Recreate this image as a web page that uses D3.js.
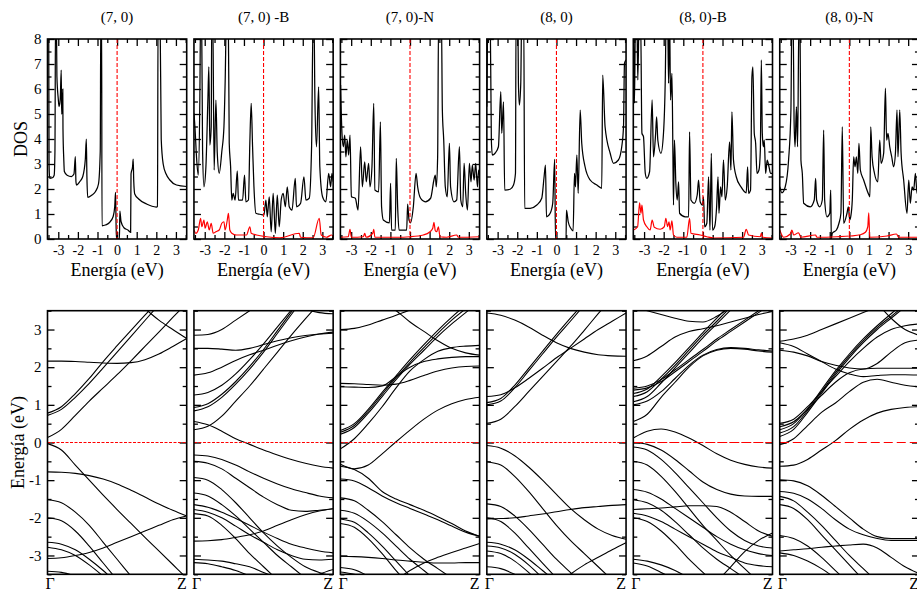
<!DOCTYPE html>
<html>
<head>
<meta charset="utf-8">
<script src="https://cdn.jsdelivr.net/npm/d3@7"></script>
<style>
  body { margin: 0; background: #fff; }
  svg { display: block; }
  svg text { font-family: "Liberation Serif", "Times New Roman", serif; }
</style>
</head>
<body>
<div id="chart-area"></div>
<script>
// ---------- data ----------
const titles = ["(7, 0)", "(7, 0) -B", "(7, 0)-N", "(8, 0)", "(8, 0)-B", "(8, 0)-N"]
const dosTicksX = [-3, -2, -1, 0, 1, 2, 3]
const dosTicksY = [0, 1, 2, 3, 4, 5, 6, 7, 8]
const bandTicksY = [-3, -2, -1, 0, 1, 2, 3]

// total DOS, [energy eV, DOS]
const dos70 = [[-3.55,9],[-3.49,9],[-3.47,3.0],[-3.44,2.43],[-3.3,2.45],[-3.21,2.55],[-3.17,3.5],[-3.14,9],[-3.1,9],[-3.07,6.5],[-3.0,5.6],[-2.96,5.3],[-2.9,5.6],[-2.85,6.76],[-2.83,5.0],[-2.8,5.2],[-2.77,6.0],[-2.76,4.4],[-2.72,3.2],[-2.69,2.7],[-2.55,2.55],[-2.33,2.5],[-2.2,2.6],[-2.13,3.3],[-2.1,2.3],[-2.07,2.16],[-1.9,2.3],[-1.75,2.5],[-1.62,3.2],[-1.57,4.0],[-1.54,2.5],[-1.5,1.67],[-1.3,1.75],[-1.1,1.9],[-0.95,2.2],[-0.86,3.5],[-0.83,9],[-0.79,9],[-0.77,0.53],[-0.6,0.56],[-0.4,0.65],[-0.2,0.9],[-0.12,1.3],[-0.08,1.87],[-0.05,0.5],[-0.03,0],[0.12,0],[0.14,1.12],[0.2,0.7],[0.35,0.45],[0.55,0.36],[0.69,0.27],[0.71,2.6],[0.79,2.9],[0.82,3.2],[0.85,2.3],[0.9,1.8],[1.1,1.6],[1.5,1.4],[2.0,1.28],[2.06,1.3],[2.09,9],[2.19,9],[2.25,4.0],[2.35,3.0],[2.5,2.6],[2.69,2.36],[3.03,2.16],[3.55,2.1]]
const dos70B = [[-3.55,5.03],[-3.5,4.49],[-3.42,3.29],[-3.33,2.56],[-3.25,5.56],[-3.21,9],[-3.16,9],[-3.11,3.56],[-3.04,2.09],[-2.94,2.89],[-2.84,5.56],[-2.79,6.89],[-2.74,3.76],[-2.67,4.49],[-2.64,9],[-2.59,9],[-2.52,2.76],[-2.43,5.56],[-2.36,3.43],[-2.26,2.63],[-2.13,3.49],[-2.02,4.49],[-1.96,6.23],[-1.89,9],[-1.8,9],[-1.75,3.83],[-1.68,2.89],[-1.62,1.56],[-1.55,1.83],[-1.45,1.56],[-1.34,2.73],[-1.28,1.56],[-1.07,1.56],[-0.97,2.56],[-0.9,1.49],[-0.77,1.56],[-0.7,3.83],[-0.63,5.43],[-0.56,3.69],[-0.49,2.09],[-0.39,1.03],[-0.19,0.99],[0.02,0.96],[0.12,1.56],[0.19,0.89],[0.29,1.69],[0.39,0.29],[0.49,1.83],[0.6,0.23],[0.7,1.76],[0.8,0.49],[0.9,1.56],[1.0,1.83],[1.11,1.29],[1.21,2.09],[1.31,1.29],[1.45,1.16],[1.62,2.43],[1.68,1.29],[1.89,1.43],[2.06,2.49],[2.16,1.56],[2.33,1.63],[2.45,3.69],[2.53,9],[2.57,9],[2.62,5.56],[2.7,3.69],[2.81,6.09],[2.87,2.89],[3.01,1.69],[3.18,1.49],[3.32,2.63],[3.42,2.09],[3.49,2.63],[3.55,2.29]]
const dos70N = [[-3.54,6.16],[-3.47,4.23],[-3.4,3.69],[-3.33,4.16],[-3.27,3.29],[-3.2,3.96],[-3.13,3.36],[-3.06,4.16],[-2.99,1.69],[-2.79,1.63],[-2.65,1.16],[-2.52,3.69],[-2.43,2.09],[-2.31,3.09],[-2.23,2.29],[-2.11,3.03],[-2.04,2.09],[-1.94,2.89],[-1.85,5.43],[-1.79,1.96],[-1.6,1.89],[-1.51,4.69],[-1.45,1.29],[-1.36,0.76],[-1.05,0.65],[-0.99,2.23],[-0.94,0.36],[-0.75,0.36],[-0.7,3.23],[-0.63,1.29],[-0.56,0.36],[-0.17,0.36],[-0.12,1.4],[-0.05,0.76],[0.03,0.65],[0.17,1.29],[0.31,2.63],[0.39,2.09],[0.54,1.63],[0.78,1.49],[1.05,1.63],[1.22,2.36],[1.29,2.56],[1.34,2.09],[1.41,3.29],[1.46,9],[1.6,9],[1.65,5.16],[1.72,3.96],[1.8,2.09],[1.9,1.69],[2.01,3.83],[2.07,2.09],[2.24,1.49],[2.38,1.56],[2.52,3.69],[2.59,1.56],[2.69,1.29],[2.76,3.03],[2.84,1.83],[2.93,1.16],[3.03,3.03],[3.11,2.29],[3.18,2.96],[3.27,2.36],[3.35,3.03],[3.44,2.09],[3.5,2.76],[3.55,2.56]]
const dos80 = [[-3.55,5.29],[-3.49,9],[-3.38,9],[-3.32,3.96],[-3.27,3.36],[-3.13,3.43],[-2.96,3.69],[-2.84,5.89],[-2.79,4.23],[-2.7,5.49],[-2.64,1.96],[-2.36,1.99],[-2.19,2.16],[-2.09,2.63],[-2.06,9],[-1.97,9],[-1.94,6.23],[-1.89,5.36],[-1.82,6.23],[-1.77,9],[-1.67,9],[-1.62,1.23],[-1.34,1.23],[-1.0,1.36],[-0.75,1.63],[-0.63,2.49],[-0.56,2.96],[-0.51,0.89],[-0.32,1.03],[-0.19,1.43],[-0.09,3.19],[-0.05,0],[0.49,0],[0.51,1.16],[0.6,0.69],[0.73,0.43],[0.85,0.33],[0.92,2.63],[0.97,2.09],[1.04,3.36],[1.11,1.83],[1.21,5.16],[1.29,3.83],[1.46,2.89],[1.72,2.36],[2.06,2.16],[2.31,2.03],[2.36,6.56],[2.48,4.49],[2.74,3.43],[2.91,3.03],[3.16,3.16],[3.33,3.69],[3.42,4.49],[3.47,7.03],[3.55,7.16]]
const dos80B = [[-3.54,9],[-3.49,5.43],[-3.44,9],[-3.37,9],[-3.32,6.36],[-3.25,9],[-3.18,9],[-3.11,4.23],[-3.03,4.09],[-2.94,2.63],[-2.86,2.43],[-2.72,2.69],[-2.59,5.56],[-2.52,3.29],[-2.41,4.23],[-2.36,4.89],[-2.3,3.96],[-2.14,3.43],[-2.01,4.23],[-1.92,6.36],[-1.87,9],[-1.8,9],[-1.75,6.23],[-1.7,9],[-1.65,5.56],[-1.58,6.63],[-1.53,3.43],[-1.5,1.36],[-1.45,3.96],[-1.38,2.23],[-1.31,1.56],[-1.24,2.29],[-1.19,1.03],[-0.9,0.89],[-0.73,0.89],[-0.68,4.29],[-0.61,1.56],[-0.44,1.43],[-0.29,1.76],[-0.22,2.36],[-0.14,1.49],[-0.02,1.36],[0.03,1.69],[0.09,0.49],[0.2,0.63],[0.29,2.49],[0.36,0.36],[0.43,3.43],[0.49,0.36],[0.6,0.49],[0.7,1.29],[0.77,2.49],[0.82,1.03],[0.9,2.09],[0.97,1.69],[1.05,3.16],[1.14,1.56],[1.24,2.09],[1.36,3.89],[1.43,2.76],[1.48,5.09],[1.56,3.16],[1.7,2.49],[1.94,2.09],[2.21,1.85],[2.28,2.89],[2.33,1.83],[2.43,1.96],[2.5,6.49],[2.55,6.89],[2.62,4.23],[2.69,3.83],[2.76,2.63],[2.86,2.76],[2.93,3.56],[2.98,7.16],[3.03,4.23],[3.08,3.69],[3.13,3.96],[3.2,2.63],[3.28,3.16],[3.37,2.89],[3.45,2.63],[3.54,2.63]]
const dos80N = [[-3.55,2.09],[-3.44,1.85],[-3.27,2.09],[-3.1,3.16],[-2.98,5.16],[-2.93,9],[-2.87,9],[-2.82,4.76],[-2.77,3.69],[-2.7,5.29],[-2.64,3.69],[-2.59,7.63],[-2.55,9],[-2.52,9],[-2.47,3.16],[-2.4,2.63],[-2.33,1.43],[-1.99,1.29],[-1.79,1.56],[-1.72,2.43],[-1.67,1.56],[-1.51,1.29],[-1.38,1.56],[-1.31,4.36],[-1.26,1.56],[-1.14,0.89],[-1.0,1.03],[-0.95,1.96],[-0.92,0],[-0.87,0.23],[-0.66,0.36],[-0.53,0.63],[-0.43,1.03],[-0.36,4.49],[-0.29,0.63],[-0.12,1.03],[-0.05,1.29],[0.02,0.76],[0.07,0.89],[0.15,1.56],[0.22,3.29],[0.29,2.89],[0.36,3.29],[0.43,2.63],[0.49,3.83],[0.56,2.76],[0.73,2.36],[1.0,1.76],[1.05,1.69],[1.09,4.49],[1.16,3.29],[1.28,2.63],[1.45,2.29],[1.55,3.96],[1.62,3.03],[1.75,3.43],[1.84,6.03],[1.9,3.96],[1.97,4.23],[2.06,3.69],[2.16,3.29],[2.26,2.89],[2.35,3.43],[2.43,5.16],[2.48,3.29],[2.57,5.16],[2.64,3.43],[2.77,2.36],[2.94,1.03],[3.03,2.36],[3.11,1.43],[3.2,2.09],[3.28,1.96],[3.37,2.63],[3.45,1.83],[3.55,2.09]]

// impurity projected DOS (red)
const pdos70B = [[-3.55,0.36],[-3.45,0.23],[-3.33,0.36],[-3.21,0.83],[-3.15,0.49],[-3.04,0.76],[-2.98,0.43],[-2.87,0.69],[-2.77,0.36],[-2.67,0.63],[-2.57,0.23],[-2.43,0.29],[-2.26,0.36],[-2.13,0.63],[-2.02,0.69],[-1.96,0.36],[-1.85,0.76],[-1.79,1.03],[-1.72,0.36],[-1.62,0.23],[-1.38,0.16],[-0.87,0.16],[-0.7,0.49],[-0.63,0.23],[-0.36,0.16],[0.15,0.09],[0.83,0.05],[1.82,0.23],[1.89,0.07],[2.53,0.05],[2.84,0.83],[2.94,0.16],[3.21,0.07],[3.47,0.16],[3.55,0.09]]
const pdos70N = [[-3.54,0.07],[-3.15,0.09],[-3.06,0.39],[-2.99,0.07],[-2.38,0.09],[-2.31,0.23],[-2.24,0.07],[-1.9,0.23],[-1.85,0.39],[-1.79,0.07],[-0.68,0.07],[0,0.09],[0.68,0.16],[1.02,0.29],[1.16,0.43],[1.22,0.67],[1.29,0.33],[1.36,0.29],[1.45,0.49],[1.53,0.09],[1.87,0.07],[2.38,0.16],[2.47,0.07],[3.55,0.09]]
const pdos80B = [[-3.54,0.36],[-3.33,0.49],[-3.23,1.45],[-3.16,1.03],[-3.11,1.36],[-3.03,0.76],[-2.86,0.49],[-2.69,0.36],[-2.59,0.76],[-2.48,0.47],[-2.18,0.39],[-1.97,0.49],[-1.89,0.83],[-1.8,0.49],[-1.73,0.69],[-1.67,0.36],[-1.58,0.73],[-1.5,0.16],[-1.33,0.07],[-0.82,0.07],[-0.68,0.83],[-0.61,0.23],[-0.14,0.16],[0.2,0.09],[0.54,0.04],[2.07,0.07],[2.21,0.39],[2.33,0.16],[2.93,0.09],[2.98,0.23],[3.06,0.07],[3.54,0.04]]
const pdos80N = [[-3.55,0.36],[-3.35,0.07],[-3.01,0.2],[-2.93,0.36],[-2.84,0.16],[-2.59,0.25],[-2.47,0.07],[-1.73,0.16],[-1.65,0.07],[-0.63,0.09],[0.05,0.12],[0.56,0.17],[0.82,0.27],[0.94,0.49],[0.99,1.05],[1.04,0.07],[1.92,0.12],[2.4,0.2],[2.52,0.07],[3.55,0.07]]

// band energies (eV) at k = 0, 0.1, ... 1 (Γ to Z); null = not drawn
const bands70 = [
  [0.13, 0.35, 0.72, 1.1, 1.45, 1.8, 2.17, 2.55, 2.93, 3.32, 3.7],
  [0.78, 0.95, 1.3, 1.7, 2.15, 2.57, 2.98, 3.38, 3.78],
  [0.72, 0.88, 1.2, 1.57, 1.98, 2.4, 2.82, 3.24, 3.66],
  [2.16, 2.16, 2.15, 2.13, 2.11, 2.1, 2.12, 2.2, 2.35, 2.55, 2.76],
  [null, null, null, null, null, null, 3.8, 3.55, 3.25, 3.0, 2.76],
  [-0.03, -0.2, -0.6, -1.0, -1.4, -1.78, -2.15, -2.52, -2.88, -3.24, -3.6],
  [-0.78, -0.79, -0.82, -0.88, -0.97, -1.1, -1.27, -1.45, -1.63, -1.8, -1.95],
  [-1.52, -1.6, -1.85, -2.2, -2.65, -3.1, -3.55],
  [-2.0, -2.08, -2.35, -2.75, -3.2, -3.65],
  [-3.08, -3.06, -3.0, -2.92, -2.8, -2.65, -2.5, -2.35, -2.2, -2.05, -1.95],
  [-2.65, -2.7, -2.85, -3.1, -3.4, -3.75],
  [-2.78, -2.85, -3.0, -3.25, -3.55],
  [-3.42, -3.45, -3.55]
]
const bands70B = [
  [0.34, 0.43, 0.7, 1.1, 1.5, 1.95, 2.4, 2.85, 3.28, 3.7],
  [0.56, 0.47, 0.3, 0.1, -0.05, -0.2, -0.33, -0.45, -0.55, -0.63, -0.68],
  [0.84, 0.95, 1.2, 1.55, 1.95, 2.4, 2.9, 3.4, 3.9],
  [0.93, 1.03, 1.28, 1.62, 2.02, 2.47, 2.97, 3.47, 3.97],
  [1.26, 1.33, 1.52, 1.82, 2.2, 2.62, 3.07, 3.52],
  [1.79, 1.85, 2.0, 2.18, 2.33, 2.45, 2.58, 2.7, 2.8, 2.88, 2.93],
  [2.5, 2.5, 2.48, 2.45, 2.5, 2.6, 2.7, 2.78, 2.84, 2.88, 2.9],
  [2.85, 2.87, 3.0, 3.25, 3.5, 3.75],
  [null, null, null, null, null, null, null, 3.8, 3.55, 3.45, 3.42],
  [-0.33, -0.36, -0.45, -0.6, -0.78, -0.95, -1.1, -1.23, -1.33, -1.42, -1.47],
  [-0.5, -0.55, -0.7, -0.95, -1.2, -1.45, -1.65, -1.8, -1.83, -1.8, -1.76],
  [-0.93, -1.0, -1.25, -1.6, -2.0, -2.4, -2.75, -3.05, -3.3, -3.45, -3.55],
  [-1.34, -1.42, -1.65, -1.95, -2.3, -2.65, -3.0, -3.3, -3.6],
  [-1.65, -1.72, -1.85, -2.02, -2.2, -2.38, -2.55, -2.7, -2.8, -2.88, -2.93],
  [-1.78, -1.85, -2.0, -2.22, -2.45, -2.65, -2.85, -3.0, -3.1, -3.12, -3.1],
  [-1.89, -1.95, -2.2, -2.55, -2.95, -3.3, -3.65],
  [-2.62, -2.61, -2.58, -2.52, -2.45, -2.35, -2.2, -2.05, -1.92, -1.82, -1.76],
  [-3.1, -3.12, -3.15, -3.22, -3.3, -3.45, -3.6],
  [-3.19, -3.22, -3.3, -3.4, -3.55],
  [null, null, null, null, null, null, null, null, -3.7, -3.5, -3.37]
]
const bands70N = [
  [-0.58, -0.7, -0.6, -0.3, 0.02, 0.33, 0.62, 0.86, 1.03, 1.14, 1.2],
  [-0.17, 0.1, 0.5, 0.95, 1.45, 1.9, 2.2, 2.42, 2.52, 2.56, 2.58],
  [0.22, 0.4, 0.78, 1.22, 1.67, 2.08, 2.45, 2.82, 3.15, 3.45, 3.75],
  [0.27, 0.45, 0.83, 1.28, 1.72, 2.13, 2.52, 2.9, 3.25, 3.55],
  [0.32, 0.5, 0.88, 1.33, 1.77, 2.2, 2.6, 2.98, 3.33, 3.65],
  [1.57, 1.56, 1.54, 1.52, 1.55, 1.65, 1.78, 1.9, 1.98, 2.02, 2.03],
  [1.48, 1.47, 1.46, 1.5, 1.75, 2.0, 2.15, 2.22, 2.26, 2.28, 2.28],
  [3.0, 3.03, 3.12, 3.25, 3.38, 3.52],
  [null, null, null, 3.7, 3.5, 3.2, 2.95, 2.7, 2.5, 2.38, 2.32],
  [-0.63, -0.72, -0.95, -1.3, -1.5, -1.65, -1.8, -1.97, -2.15, -2.35, -2.49],
  [-0.97, -1.02, -1.2, -1.42, -1.6, -1.75, -1.9, -2.05, -2.22, -2.38, -2.49],
  [-1.47, -1.55, -1.8, -2.1, -2.45, -2.8, -3.1, -3.35, -3.6],
  [-1.8, -1.88, -2.1, -2.4, -2.75, -3.1, -3.4, -3.7],
  [-2.03, -2.12, -2.4, -2.75, -3.15, -3.55],
  [-2.15, -2.25, -2.55, -2.95, -3.4, -3.8],
  [null, null, null, null, -3.65, -3.4, -3.2, -3.05, -2.92, -2.8, -2.68],
  [-3.02, -3.03, -3.05, -3.08, -3.12, -3.15, -3.18, -3.2, -3.2, -3.19, -3.19],
  [-3.32, -3.38, -3.55],
  [-3.44, -3.5, -3.6]
]
const bands80 = [
  [3.44, 3.38, 3.25, 3.07, 2.85, 2.65, 2.5, 2.4, 2.33, 2.3, 2.29],
  [0.51, 0.62, 0.95, 1.35, 1.75, 2.15, 2.55, 2.98, 3.42, 3.85],
  [1.0, 1.1, 1.45, 1.9, 2.35, 2.8, 3.22, 3.65],
  [1.06, 1.17, 1.52, 1.97, 2.42, 2.87, 3.3, 3.72],
  [1.22, 1.27, 1.45, 1.7, 1.97, 2.25, 2.5, 2.75, 3.0, 3.22, 3.44],
  [-0.08, -0.15, -0.35, -0.65, -1.0, -1.38, -1.75, -2.05, -2.3, -2.47, -2.57],
  [-0.51, -0.6, -0.9, -1.3, -1.75, -2.2, -2.6, -2.95, -3.3, -3.65],
  [-2.03, -2.02, -2.0, -1.95, -1.9, -1.84, -1.78, -1.73, -1.7, -1.67, -1.65],
  [-1.63, -1.7, -1.95, -2.3, -2.7, -3.1, -3.45, -3.8],
  [-2.0, -2.1, -2.4, -2.8, -3.2, -3.6],
  [-2.65, -2.7, -2.85, -3.1, -3.4, -3.7],
  [-2.75, -2.8, -2.97, -3.25, -3.6],
  [-2.88, -2.95, -3.15, -3.45, -3.8],
  [-3.3, -3.35, -3.5],
  [null, null, null, null, null, -3.8, -3.5, -3.25, -3.05, -2.85, -2.66]
]
const bands80B = [
  [0.56, 0.75, 1.2, 1.6, 2.0, 2.3, 2.45, 2.5, 2.48, 2.43, 2.4],
  [1.0, 1.1, 1.35, 1.7, 2.05, 2.32, 2.47, 2.52, 2.5, 2.46, 2.43],
  [1.08, 1.22, 1.58, 1.98, 2.38, 2.78, 3.15, 3.52],
  [1.22, 1.35, 1.68, 2.05, 2.45, 2.85, 3.22, 3.6],
  [1.3, 1.42, 1.75, 2.12, 2.52, 2.92, 3.3, 3.68],
  [1.39, 1.45, 1.62, 1.88, 2.15, 2.42, 2.7, 2.95, 3.2, 3.45, 3.7],
  [1.44, 1.5, 1.67, 1.93, 2.2, 2.47, 2.75, 3.0, 3.25, 3.5],
  [2.17, 2.3, 2.55, 2.8, 2.95, 3.02, 3.1, 3.2, 3.3, 3.4, 3.48],
  [3.6, 3.5, 3.4, 3.3, 3.22, 3.2, 3.35, 3.6],
  [0.12, 0.3, 0.36, 0.28, 0.12, -0.08, -0.3, -0.47, -0.58, -0.65, -0.68],
  [0.0, -0.05, -0.2, -0.45, -0.75, -1.05, -1.25, -1.37, -1.42, -1.43, -1.43],
  [-0.12, -0.2, -0.45, -0.8, -1.2, -1.6, -2.0, -2.35, -2.6, -2.75, -2.8],
  [-0.5, -0.6, -0.9, -1.3, -1.75, -2.2, -2.6, -3.0, -3.35, -3.7],
  [-1.25, -1.32, -1.5, -1.75, -2.0, -2.25, -2.5, -2.7, -2.85, -2.95, -3.0],
  [-1.78, -1.76, -1.74, -1.71, -1.68, -1.68, -1.7, -1.85, -2.1, -2.35, -2.49],
  [-1.52, -1.6, -1.8, -2.1, -2.45, -2.8, -3.1, -3.35, -3.6],
  [-1.88, -1.95, -2.1, -2.3, -2.5, -2.7, -2.9, -3.05, -3.2, -3.27, -3.3],
  [-2.0, -2.1, -2.35, -2.7, -3.1, -3.45, -3.8],
  [-3.1, -3.15, -3.25, -3.4, -3.6],
  [-3.2, -3.28, -3.45, -3.65],
  [null, null, null, null, null, null, -3.7, -3.3, -2.9, -2.6, -2.4]
]
const bands80N = [
  [-0.63, -0.6, -0.45, -0.2, 0.05, 0.35, 0.6, 0.78, 0.88, 0.93, 0.95],
  [-0.06, 0.1, 0.45, 0.8, 1.05, 1.35, 1.6, 1.68, 1.6, 1.52, 1.48],
  [0.16, 0.35, 0.8, 1.3, 1.8, 2.25, 2.65, 3.0, 3.3, 3.6],
  [0.25, 0.42, 0.85, 1.35, 1.85, 2.3, 2.7, 3.05, 3.35, 3.65],
  [0.34, 0.5, 0.9, 1.4, 1.9, 2.35, 2.75, 3.1, 3.42, 3.72],
  [0.42, 0.55, 0.88, 1.25, 1.6, 1.85, 1.95, 1.97, 1.97, 1.97, 1.97],
  [0.51, 0.62, 0.95, 1.35, 1.75, 2.15, 2.5, 2.8, 3.0, 3.1, 3.15],
  [2.69, 2.75, 2.85, 3.0, 3.15, 3.3, 3.45, 3.6],
  [2.65, 2.55, 2.35, 2.15, 1.95, 1.82, 1.75, 1.78, 1.8, 1.8, 1.79],
  [2.45, 2.4, 2.3, 2.15, 2.05, 1.98, 1.95, 2.1, 2.4, 2.65, 2.72],
  [null, null, null, null, null, null, null, 3.7, 3.3, 3.0, 2.85],
  [-0.99, -1.02, -1.15, -1.4, -1.7, -2.0, -2.3, -2.5, -2.55, -2.55, -2.55],
  [-1.3, -1.35, -1.5, -1.75, -2.05, -2.3, -2.45, -2.55, -2.6, -2.6, -2.6],
  [-1.43, -1.55, -1.85, -2.2, -2.6, -3.0, -3.35, -3.7],
  [-1.65, -1.75, -2.05, -2.45, -2.85, -3.25, -3.65],
  [-2.47, -2.55, -2.75, -3.05, -3.4, -3.75],
  [-2.88, -2.85, -2.82, -2.78, -2.75, -2.72, -2.7, -2.8, -3.05, -3.3, -3.48],
  [-2.93, -3.0, -3.15, -3.35, -3.6]
]

const dosTotal = [dos70, dos70B, dos70N, dos80, dos80B, dos80N]
const dosImp = [null, pdos70B, pdos70N, null, pdos80B, pdos80N]
const bandSets = [bands70, bands70B, bands70N, bands80, bands80B, bands80N]
const fermiDash = ["3,1.5", "3,1.5", "3,1.5", "3,1.5", "10,2", "9,4"]

// ---------- layout ----------
const WIDTH = 917, HEIGHT = 592
const PANEL_W = 139.2, STEP = 146.45, LEFT0 = 47.5
const TOP1 = 39, H1 = 200, TOP2 = 310.7, H2 = 263.6
const FONT = "Liberation Serif, Times New Roman, serif"

const svg = d3.select("#chart-area").append("svg")
  .attr("width", WIDTH)
  .attr("height", HEIGHT)
  .style("font-family", FONT)

const xDos = d3.scaleLinear().domain([-3.55, 3.55]).range([0, PANEL_W])
const yDos = d3.scaleLinear().domain([0, 8]).range([H1, 0])
const xK = d3.scaleLinear().domain([0, 1]).range([0, PANEL_W])
const yE = d3.scaleLinear().domain([-3.5, 3.5]).range([H2, 0])

const dosLine = d3.line().x(d => xDos(d[0])).y(d => yDos(d[1])).curve(d3.curveMonotoneX)
const bandLine = d3.line()
  .defined(d => d[1] != null)
  .x(d => xK(d[0]))
  .y(d => yE(d[1]))
  .curve(d3.curveMonotoneX)

const half = (a, b) => d3.range(a, b + 0.001, 0.5).filter(v => Math.abs(v % 1) > 0.1)

// inward ticks, no domain line
function ticks(g, axis, vals, size, label, fs) {
  g.call(axis.tickValues(vals).tickSize(-size).tickPadding(label ? 6 : 0)
    .tickFormat(label ? (d => String(d)) : () => ""))
  g.attr("font-family", null)
  g.select(".domain").remove()
  g.selectAll("line").attr("stroke", "#000").attr("stroke-width", 1.3)
  g.selectAll("text").style("font-family", FONT).attr("font-size", fs).attr("fill", "#000")
}

titles.forEach((title, i) => {
  const left = LEFT0 + i * STEP

  // ---- DOS panel ----
  const g = svg.append("g").attr("transform", `translate(${left},${TOP1})`)
  g.append("clipPath").attr("id", "cd" + i)
    .append("rect").attr("width", PANEL_W).attr("height", H1)

  ticks(g.append("g").attr("transform", `translate(0,${H1})`), d3.axisBottom(xDos), dosTicksX, 7, true, 14)
  ticks(g.append("g").attr("transform", `translate(0,${H1})`), d3.axisBottom(xDos), half(-3.5, 3.5), 4, false)
  ticks(g.append("g"), d3.axisTop(xDos), dosTicksX, 7, false)
  ticks(g.append("g"), d3.axisTop(xDos), half(-3.5, 3.5), 4, false)
  ticks(g.append("g"), d3.axisLeft(yDos), dosTicksY, 7, i === 0, 15)
  ticks(g.append("g"), d3.axisLeft(yDos), half(0, 8), 4, false)
  ticks(g.append("g").attr("transform", `translate(${PANEL_W},0)`), d3.axisRight(yDos), dosTicksY, 7, false)
  ticks(g.append("g").attr("transform", `translate(${PANEL_W},0)`), d3.axisRight(yDos), half(0, 8), 4, false)

  const cg = g.append("g").attr("clip-path", `url(#cd${i})`)
  cg.append("path").datum(dosTotal[i])
    .attr("d", dosLine).attr("fill", "none").attr("stroke", "#000").attr("stroke-width", 1.25)
  if (dosImp[i]) {
    cg.append("path").datum(dosImp[i])
      .attr("d", dosLine).attr("fill", "none").attr("stroke", "#ff0000").attr("stroke-width", 1.2)
  }
  g.append("line")
    .attr("x1", xDos(0)).attr("x2", xDos(0)).attr("y1", 0).attr("y2", H1)
    .attr("stroke", "#ff0000").attr("stroke-width", 1.1).attr("stroke-dasharray", "4,2")
  g.append("rect").attr("width", PANEL_W).attr("height", H1)
    .attr("fill", "none").attr("stroke", "#000").attr("stroke-width", 1.6)

  svg.append("text").attr("x", left + PANEL_W / 2).attr("y", 22)
    .attr("text-anchor", "middle").attr("font-size", 15).text(title)
  svg.append("text").attr("x", left + PANEL_W / 2).attr("y", TOP1 + H1 + 37)
    .attr("text-anchor", "middle").attr("font-size", 18).text("Energía (eV)")

  // ---- band panel ----
  const b = svg.append("g").attr("transform", `translate(${left},${TOP2})`)
  b.append("clipPath").attr("id", "cb" + i)
    .append("rect").attr("width", PANEL_W).attr("height", H2)

  ticks(b.append("g"), d3.axisLeft(yE), bandTicksY, 7, i === 0, 15)
  ticks(b.append("g"), d3.axisLeft(yE), half(-3.5, 3.5), 4, false)
  ticks(b.append("g").attr("transform", `translate(${PANEL_W},0)`), d3.axisRight(yE), bandTicksY, 7, false)
  ticks(b.append("g").attr("transform", `translate(${PANEL_W},0)`), d3.axisRight(yE), half(-3.5, 3.5), 4, false)

  const bc = b.append("g").attr("clip-path", `url(#cb${i})`)
  bc.selectAll("path.band")
    .data(bandSets[i].map(vals => vals.map((e, j) => [j / 10, e])))
    .join("path").attr("class", "band")
    .attr("d", bandLine).attr("fill", "none").attr("stroke", "#000").attr("stroke-width", 1.1)
  b.append("line")
    .attr("x1", 0).attr("x2", PANEL_W).attr("y1", yE(0)).attr("y2", yE(0))
    .attr("stroke", "#ff0000").attr("stroke-width", 1.1).attr("stroke-dasharray", fermiDash[i])
  b.append("rect").attr("width", PANEL_W).attr("height", H2)
    .attr("fill", "none").attr("stroke", "#000").attr("stroke-width", 1.6)

  svg.append("text").attr("x", left - 2).attr("y", 589)
    .attr("text-anchor", "start").attr("font-size", 16).text("Γ")
  svg.append("text").attr("x", left + PANEL_W).attr("y", 589)
    .attr("text-anchor", "end").attr("font-size", 16).text("Z")
})

svg.append("text")
  .attr("transform", `translate(27,${TOP1 + H1 / 2}) rotate(-90)`)
  .attr("text-anchor", "middle").attr("font-size", 18).text("DOS")
svg.append("text")
  .attr("transform", `translate(24,${TOP2 + H2 / 2}) rotate(-90)`)
  .attr("text-anchor", "middle").attr("font-size", 18).text("Energía (eV)")
</script>
</body>
</html>
